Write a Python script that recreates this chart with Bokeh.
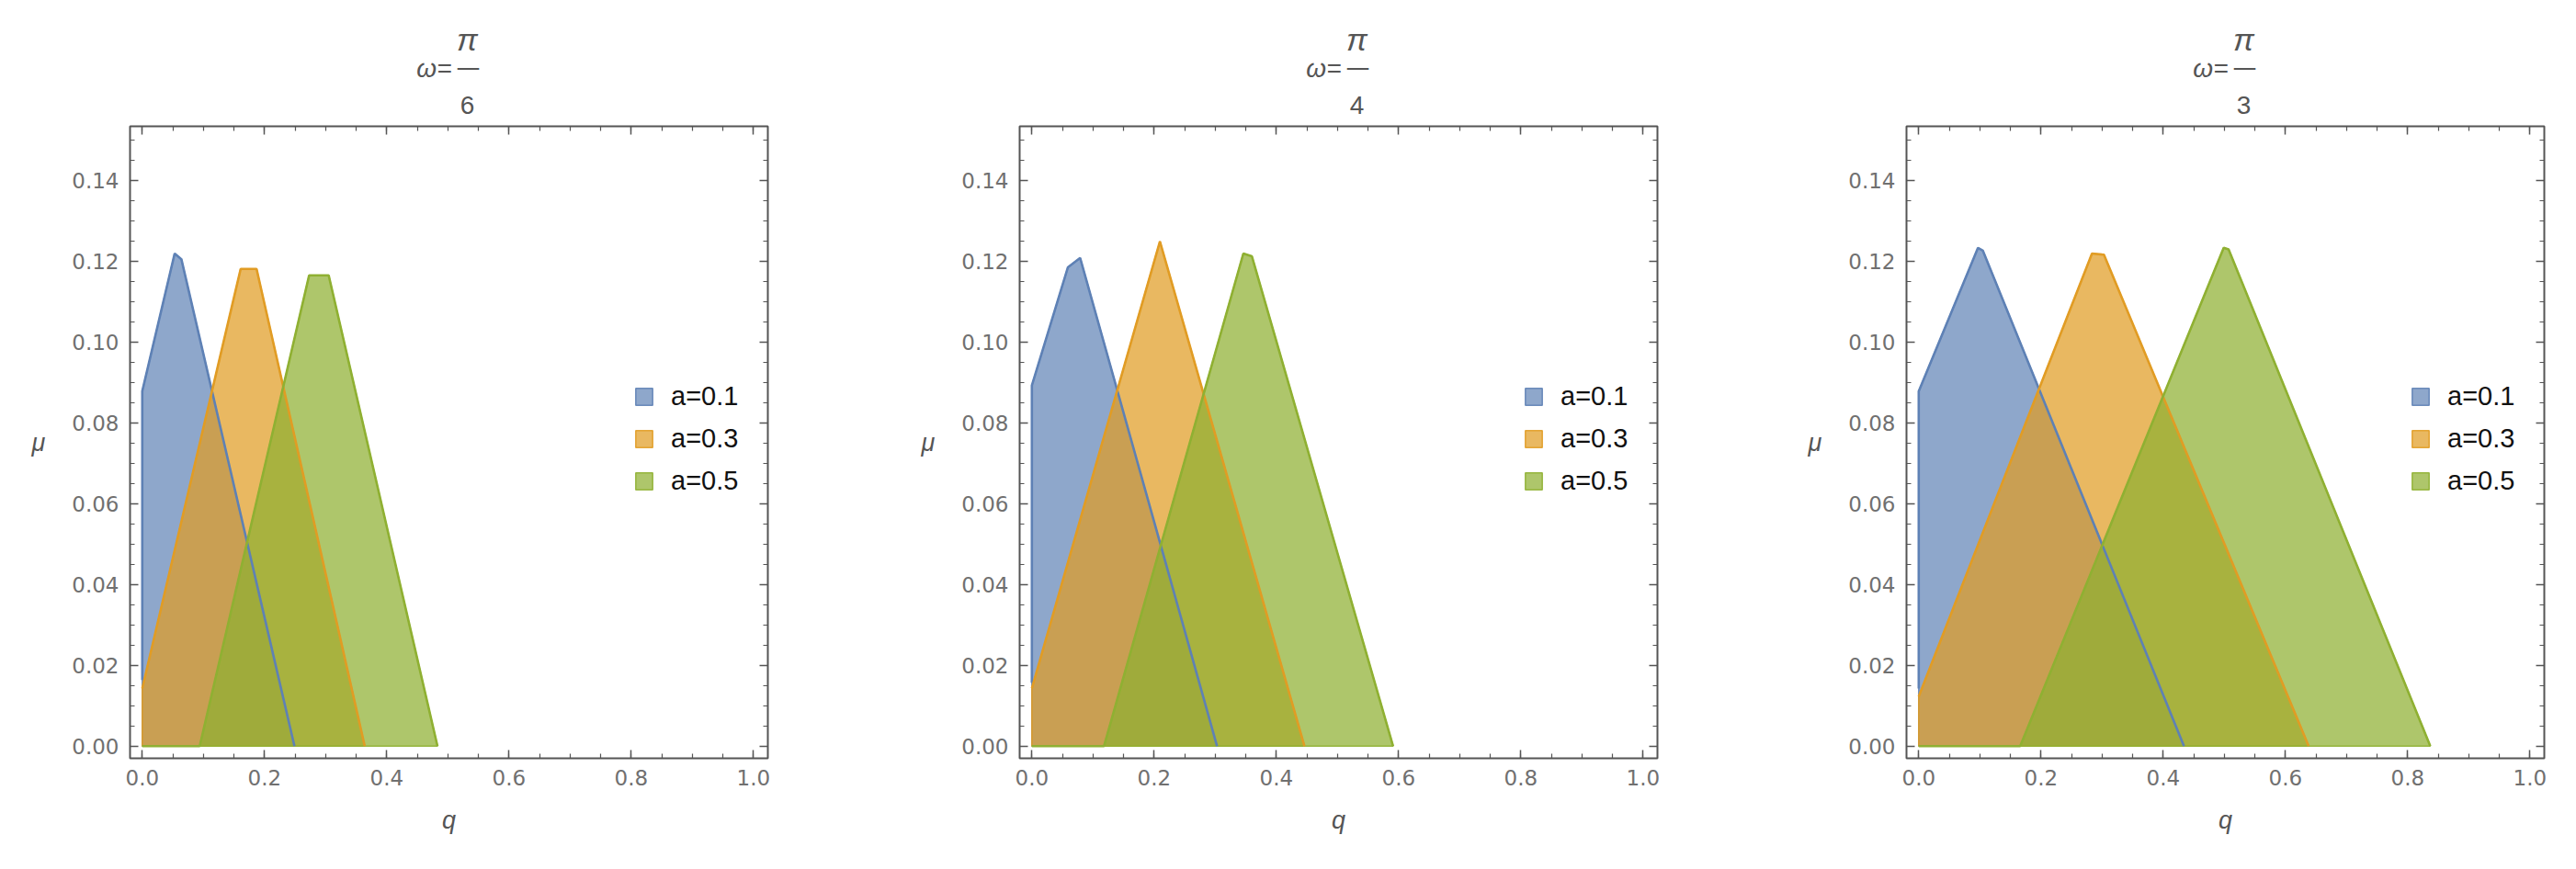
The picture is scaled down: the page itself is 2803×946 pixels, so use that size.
from bokeh.plotting import figure
from bokeh.layouts import row, column
from bokeh.models import (FixedTicker, LinearAxis, Legend, LegendItem,
                          Range1d, NumeralTickFormatter)
from bokeh.core.properties import value
from bokeh.embed import file_html
from bokeh.resources import INLINE

# ---------------- data ----------------
denominators = ["6", "4", "3"]
series_labels = ["a=0.1", "a=0.3", "a=0.5"]

# omega = pi/6
q_pi6_a01 = [0.0, 0.0, 0.053, 0.064, 0.249]
mu_pi6_a01 = [0.0164, 0.0879, 0.1220, 0.1206, 0.0]
q_pi6_a03 = [0.0, 0.161, 0.187, 0.364]
mu_pi6_a03 = [0.0143, 0.1182, 0.1182, 0.0]
q_pi6_a05 = [0.0, 0.094, 0.273, 0.305, 0.483]
mu_pi6_a05 = [0.0, 0.0, 0.1166, 0.1166, 0.0]

# omega = pi/4
q_pi4_a01 = [0.0, 0.0, 0.059, 0.079, 0.303]
mu_pi4_a01 = [0.0157, 0.0893, 0.1186, 0.1209, 0.0]
q_pi4_a03 = [0.0, 0.2095, 0.446]
mu_pi4_a03 = [0.0143, 0.1250, 0.0]
q_pi4_a05 = [0.0, 0.118, 0.346, 0.360, 0.591]
mu_pi4_a05 = [0.0, 0.0, 0.1220, 0.1213, 0.0]

# omega = pi/3
q_pi3_a01 = [0.0, 0.0, 0.097, 0.105, 0.434]
mu_pi3_a01 = [0.0143, 0.0879, 0.1234, 0.1227, 0.0]
q_pi3_a03 = [0.0, 0.2835, 0.303, 0.638]
mu_pi3_a03 = [0.0123, 0.1220, 0.1217, 0.0]
q_pi3_a05 = [0.0, 0.166, 0.499, 0.507, 0.837]
mu_pi3_a05 = [0.0, 0.0, 0.1234, 0.1230, 0.0]

panels = [
    [(q_pi6_a01, mu_pi6_a01), (q_pi6_a03, mu_pi6_a03), (q_pi6_a05, mu_pi6_a05)],
    [(q_pi4_a01, mu_pi4_a01), (q_pi4_a03, mu_pi4_a03), (q_pi4_a05, mu_pi4_a05)],
    [(q_pi3_a01, mu_pi3_a01), (q_pi3_a03, mu_pi3_a03), (q_pi3_a05, mu_pi3_a05)],
]

x_major = [0.0, 0.2, 0.4, 0.6, 0.8, 1.0]
x_minor = [i * 0.05 for i in range(21)]
y_major = [0.0, 0.02, 0.04, 0.06, 0.08, 0.10, 0.12, 0.14]
y_minor = [i * 0.005 for i in range(31)]

# ---------------- style ----------------
line_colors = ["#5E81B5", "#E19C24", "#8FB032"]
fill_alphas = [0.7, 0.72, 0.72]
frame_col = "#555555"
tick_font = "DejaVu Sans"
gray_text = "#707070"
title_col = "#555555"

FRAME_W, FRAME_H = 694, 688
HEADER_H = 133
BORDER_L, BORDER_TOP, BORDER_BOT = 141, 4, 100
right_borders = [133, 130, 20]


def style_axis(ax, ticks, minor, fmt, show_labels):
    ax.ticker = FixedTicker(ticks=ticks, minor_ticks=minor)
    ax.formatter = NumeralTickFormatter(format=fmt)
    ax.axis_line_color = None
    ax.major_tick_in = 9
    ax.major_tick_out = 0
    ax.minor_tick_in = 5
    ax.minor_tick_out = 0
    ax.major_tick_line_color = frame_col
    ax.minor_tick_line_color = frame_col
    ax.major_tick_line_width = 1.5
    ax.minor_tick_line_width = 1.2
    ax.major_label_standoff = 12
    ax.major_label_text_font = tick_font
    ax.major_label_text_font_size = "23px"
    ax.major_label_text_color = gray_text if show_labels else None


columns = []
for idx, data in enumerate(panels):
    # ---- header with the title  omega = pi / n ----
    h = figure(title=None, frame_width=FRAME_W, frame_height=HEADER_H,
               x_range=Range1d(0, FRAME_W), y_range=Range1d(0, HEADER_H),
               x_axis_location=None, y_axis_location=None,
               output_backend="svg", toolbar_location=None,
               min_border_left=BORDER_L, min_border_right=right_borders[idx],
               min_border_top=0, min_border_bottom=0)
    h.grid.visible = False
    h.outline_line_color = None
    h.text(x=[367], y=[91], text=["π"], text_font=value("Liberation Sans"),
           text_font_style="italic", text_font_size="34px", text_color=title_col,
           text_align="center", text_baseline="middle")
    h.text(x=[368], y=[61], text=["—"], text_font=value("DejaVu Sans"),
           text_font_size="26px", text_color=title_col,
           text_align="center", text_baseline="middle")
    h.text(x=[367], y=[19], text=[denominators[idx]], text_font=value("Liberation Sans"),
           text_font_size="28px", text_color=title_col,
           text_align="center", text_baseline="middle")
    h.text(x=[350], y=[59], text=["ω="], text_font=value("Liberation Sans"),
           text_font_style="italic", text_font_size="28px", text_color=title_col,
           text_align="right", text_baseline="middle")

    # ---- main plot ----
    p = figure(title=None, frame_width=FRAME_W, frame_height=FRAME_H,
               x_range=Range1d(-0.02, 1.0235), y_range=Range1d(-0.003, 0.1535),
               output_backend="svg", toolbar_location=None,
               min_border_left=BORDER_L, min_border_right=right_borders[idx],
               min_border_top=BORDER_TOP, min_border_bottom=BORDER_BOT)
    p.grid.visible = False
    p.outline_line_color = frame_col
    p.outline_line_width = 2

    bottom_ax = p.xaxis[0]
    left_ax = p.yaxis[0]
    style_axis(bottom_ax, x_major, x_minor, "0.0", True)
    style_axis(left_ax, y_major, y_minor, "0.00", True)
    top_ax = LinearAxis()
    right_ax = LinearAxis()
    p.add_layout(top_ax, "above")
    p.add_layout(right_ax, "right")
    style_axis(top_ax, x_major, x_minor, "0.0", False)
    style_axis(right_ax, y_major, y_minor, "0.00", False)
    for ax in (top_ax, right_ax):
        ax.major_label_text_font_size = "0px"
        ax.major_label_standoff = 0

    bottom_ax.axis_label = "q"
    left_ax.axis_label = "μ"
    left_ax.axis_label_orientation = "horizontal"
    for ax, st in ((bottom_ax, 20), (left_ax, 26)):
        ax.axis_label_text_font = "Liberation Sans"
        ax.axis_label_text_font_style = "italic"
        ax.axis_label_text_font_size = "27px"
        ax.axis_label_text_color = title_col
        ax.axis_label_standoff = st

    fills = []
    for k, (qs, mus) in enumerate(data):
        px = [qs[0]] + list(qs) + [qs[-1]]
        py = [0.0] + list(mus) + [0.0]
        r = p.patch(px, py, fill_color=line_colors[k], fill_alpha=fill_alphas[k],
                    line_color=line_colors[k], line_width=1.5, line_alpha=0.9)
        fills.append(r)
    for k, (qs, mus) in enumerate(data):
        p.line(qs, mus, line_color=line_colors[k], line_width=2.6)

    items = [LegendItem(label=series_labels[k], renderers=[fills[k]]) for k in range(3)]
    leg = Legend(items=items, location=(548, 285), orientation="vertical",
                 glyph_width=23, glyph_height=23, label_height=23,
                 label_standoff=18, spacing=13, padding=0, margin=0,
                 border_line_color=None, background_fill_alpha=0.0,
                 label_text_font="Liberation Sans", label_text_font_size="29px",
                 label_text_color="#111111")
    p.add_layout(leg, "center")

    columns.append(column(h, p, spacing=0))

layout = row(*columns, spacing=0)
open("out.html", "w").write(file_html(layout, INLINE))
